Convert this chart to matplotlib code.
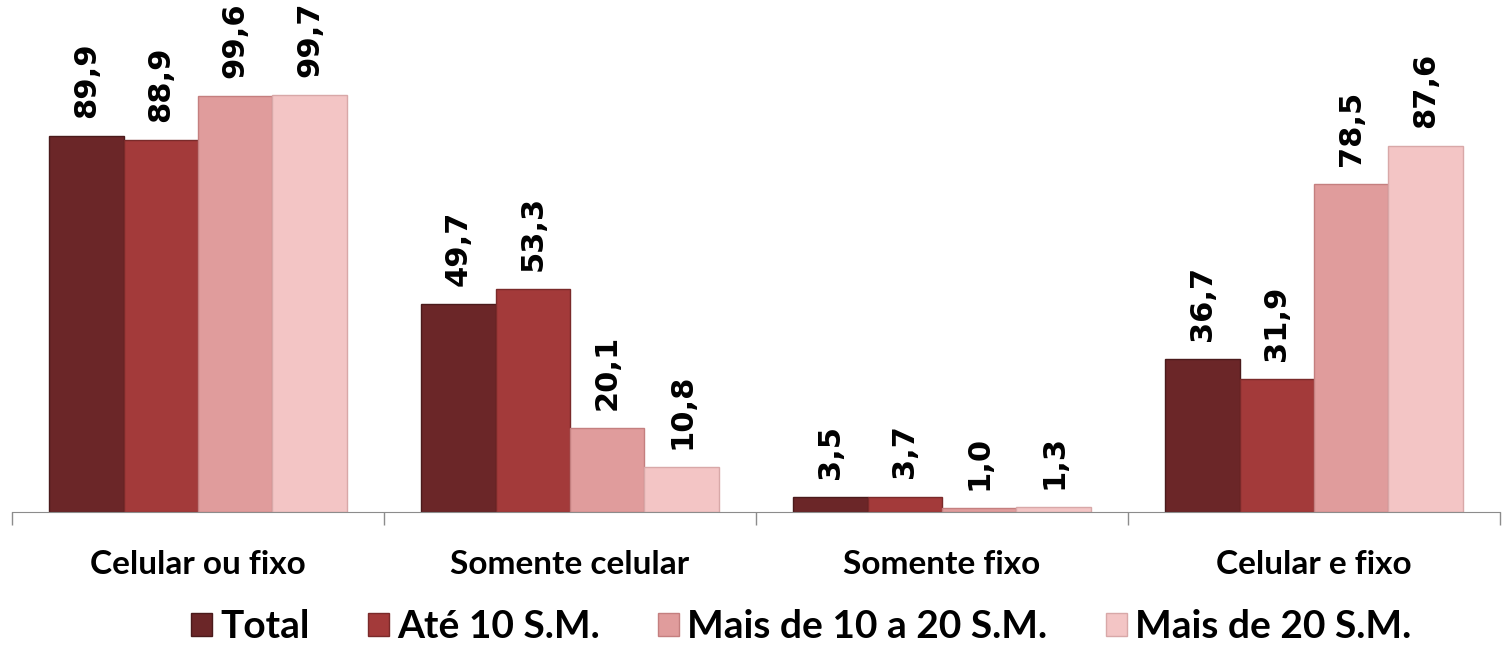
import numpy as np
import matplotlib.pyplot as plt
from matplotlib.ticker import FixedLocator

categorias = ['Celular ou fixo', 'Somente celular', 'Somente fixo', 'Celular e fixo']
series = ['Total', 'Até 10 S.M.', 'Mais de 10 a 20 S.M.', 'Mais de 20 S.M.']
total = [89.9, 49.7, 3.5, 36.7]
ate_10 = [88.9, 53.3, 3.7, 31.9]
de_10_a_20 = [99.6, 20.1, 1.0, 78.5]
mais_20 = [99.7, 10.8, 1.3, 87.6]

valores = [total, ate_10, de_10_a_20, mais_20]
cores = ['#6b2628', '#a33a3a', '#e09c9c', '#f3c5c5']
bordas = ['#4a1a1b', '#7a2a2a', '#c47f7f', '#d8a8a8']

fig = plt.figure(figsize=(15.06, 6.45), dpi=100)
ax = fig.add_axes([12 / 1506, 133 / 645, 1488 / 1506, 512 / 645])

x = np.arange(len(categorias))
largura = 0.2
for j, (nome, vals) in enumerate(zip(series, valores)):
    pos = x + (j - 1.5) * largura
    ax.bar(pos, vals, width=largura, color=cores[j], edgecolor=bordas[j],
           linewidth=1, label=nome)
    for p, v in zip(pos, vals):
        ax.annotate(f'{v:.1f}'.replace('.', ','), (p, v), xytext=(0, 13),
                    textcoords='offset points', rotation=90, ha='center',
                    va='bottom', fontsize=22, fontweight='bold',
                    family='DejaVu Sans')

ax.set_xlim(-0.5, 3.5)
ax.set_ylim(0, 122.5)
for s in ['top', 'right', 'left']:
    ax.spines[s].set_visible(False)
ax.spines['bottom'].set_color('#8c8c8c')
ax.set_yticks([])
ax.set_xticks(x)
ax.set_xticklabels(categorias, fontsize=24, fontweight='bold', family='Lato')
ax.tick_params(axis='x', which='major', length=0, pad=27)
ax.xaxis.set_minor_locator(FixedLocator(np.arange(-0.5, 4, 1.0)))
ax.tick_params(axis='x', which='minor', length=9, color='#8c8c8c', width=1)

leg = fig.legend(loc='center', bbox_to_anchor=(801 / 1506, 18 / 645), ncol=4,
                 frameon=False, handlelength=0.55, handleheight=0.55,
                 handletextpad=0.2, columnspacing=1.5,
                 prop={'family': 'Lato', 'weight': 'bold', 'size': 28})

fig.savefig('out.png', dpi=100)
